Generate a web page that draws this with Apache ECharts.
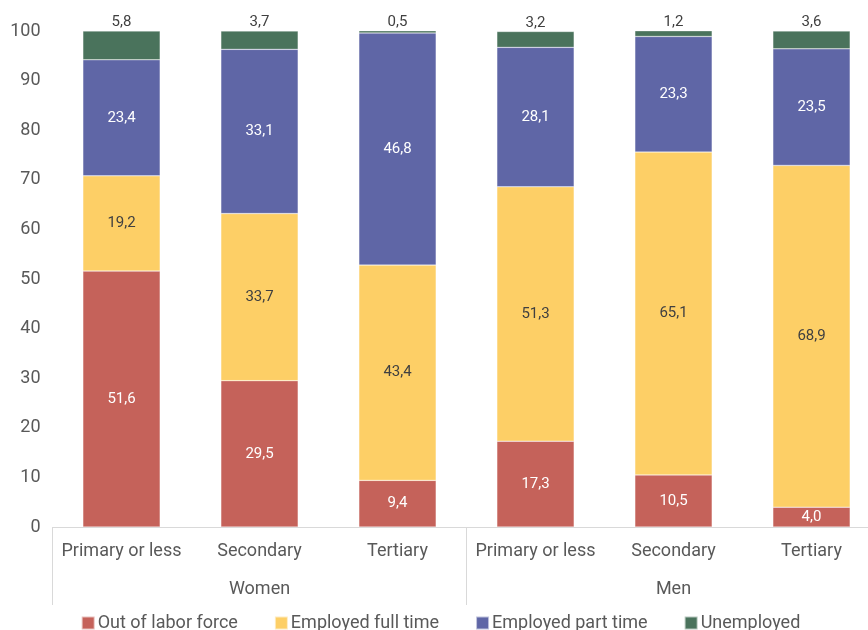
<!DOCTYPE html>
<html>
<head>
<meta charset="utf-8">
<script src="https://cdn.jsdelivr.net/npm/echarts@6/dist/echarts.min.js"></script>
<style>html,body{margin:0;padding:0;background:#fff;overflow:hidden;width:868px;height:630px}#c{width:881px;height:630px}</style>
</head>
<body>
<div id="c"></div>
<script>
const categories = ['Primary or less','Secondary','Tertiary','Primary or less','Secondary','Tertiary'];
const groups = ['Women','Men'];
const outOfLabor = [51.6, 29.5, 9.4, 17.3, 10.5, 4.0];
const fullTime = [19.2, 33.7, 43.4, 51.3, 65.1, 68.9];
const partTime = [23.4, 33.1, 46.8, 28.1, 23.3, 23.5];
const unemployed = [5.8, 3.7, 0.5, 3.2, 1.2, 3.6];
const yTicks = [0,10,20,30,40,50,60,70,80,90,100];

const FONT = 'Roboto';
const fmt = p => p.value.toFixed(1).replace('.', ',');
function mk(name, data, color, labelColor, pos) {
  return {
    name, type: 'bar', stack: 'a', data, barWidth: '56%',
    itemStyle: { color, borderColor: 'rgba(255,255,255,0.6)', borderWidth: 0.5 },
    label: { show: true, position: pos, distance: 1, formatter: fmt, color: labelColor, fontSize: 15, fontFamily: FONT },
    emphasis: { disabled: true }
  };
}
const chart = echarts.init(document.getElementById('c'), null, { renderer: 'canvas' });
chart.setOption({
  animation: false,
  textStyle: { fontFamily: FONT },
  grid: { left: 52.5, right: 0.5, top: 31, bottom: 103, containLabel: false },
  legend: {
    top: 609, left: 'center', itemWidth: 13, itemHeight: 13, itemGap: 36,
    icon: 'rect',
    textStyle: { fontSize: 18, color: '#595959', fontFamily: FONT, padding: [0,0,0,-2] },
    data: ['Out of labor force','Employed full time','Employed part time','Unemployed']
  },
  xAxis: [
    {
      type: 'category', data: categories, position: 'bottom',
      axisLine: { show: true, lineStyle: { color: '#d9d9d9', width: 1 } },
      axisTick: { show: false },
      axisLabel: { margin: 15, fontSize: 18, color: '#595959', fontFamily: FONT, interval: 0 }
    },
    {
      type: 'category', data: groups, position: 'bottom', gridIndex: 0,
      axisLine: { show: false },
      axisTick: { show: true, length: 78, interval: 0, lineStyle: { color: '#d9d9d9' } },
      axisLabel: { margin: 53, fontSize: 18, color: '#595959', fontFamily: FONT, interval: 0 }
    }
  ],
  yAxis: {
    type: 'value', min: 0, max: 100, interval: 10,
    axisLine: { show: false }, axisTick: { show: false }, splitLine: { show: false },
    axisLabel: { margin: 12, fontSize: 18, color: '#595959', fontFamily: FONT,
      formatter: v => yTicks.includes(v) ? String(v) : '' }
  },
  series: [
    mk('Out of labor force', outOfLabor, '#C5625A', '#ffffff', 'inside'),
    mk('Employed full time', fullTime, '#FDCF66', '#404040', 'inside'),
    mk('Employed part time', partTime, '#5F66A6', '#ffffff', 'inside'),
    mk('Unemployed', unemployed, '#4A735C', '#404040', 'top')
  ]
});
</script>
</body>
</html>
